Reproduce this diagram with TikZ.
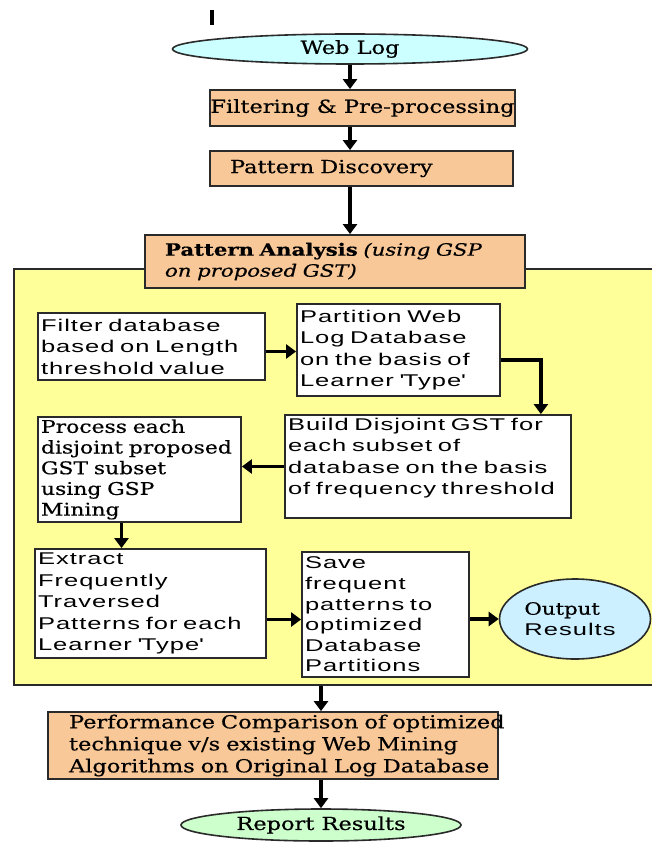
\documentclass[tikz,border=0pt]{standalone}
\usepackage{fontspec}
\setmainfont[FakeStretch=1.25,FakeBold=0.5]{DejaVu Serif}
\newfontfamily\sw[FakeStretch=1.5,LetterSpace=6]{Liberation Sans}
\usetikzlibrary{shapes.geometric,arrows.meta,calc}
\definecolor{cyanf}{HTML}{CCFFFF}
\definecolor{bluef}{HTML}{CCF0FF}
\definecolor{greenf}{HTML}{CCFFCC}
\definecolor{orangef}{HTML}{F9C898}
\definecolor{yellowf}{HTML}{FFFF99}
\definecolor{edge}{HTML}{2A2A2A}
\begin{document}
\begin{tikzpicture}[x=1pt,y=-1pt,
  serif/.style={font=\fontsize{18}{22}\selectfont},
  sans/.style={font=\sw\fontsize{17}{21.5}\selectfont},
  obox/.style={draw=edge, line width=1.8pt, fill=orangef, inner sep=0pt, serif},
  wbox/.style={draw=edge, line width=1.8pt, fill=white, inner ysep=0pt, inner xsep=3pt, align=left},
  oval/.style={ellipse, draw=edge, line width=1.6pt, inner sep=0pt, serif},
  arr/.style={line width=3.4pt, -{Triangle[width=14pt,length=10pt]}}
]
\useasboundingbox (0,0) rectangle (652,842);
\coordinate (t1) at (212,10);
\coordinate (t2) at (212,25);
\draw[line width=3.2pt] (t1) -- (t2);

\node[oval, fill=cyanf, minimum width=355pt, minimum height=30pt] (weblog) at (350,49) {Web Log};
\node[obox, minimum width=305pt, minimum height=36pt] (filt) at (362.5,108) {Filtering \& Pre-processing};
\node[obox, minimum width=303pt, minimum height=35pt, text width=263pt, align=left, inner xsep=20pt] (pd) at (361.5,168.5) {Pattern Discovery};

\node[draw=edge, line width=1.8pt, fill=yellowf, anchor=north west, minimum width=650pt, minimum height=416pt, inner sep=0pt] (ana) at (13,268) {};

\node[obox, minimum width=380pt, minimum height=53pt, text width=340pt, inner xsep=20pt, align=left, font=\fontsize{17}{21}\selectfont] (pa) at (335,261.5) {\mbox{\textbf{Pattern Analysis} \textit{(using GSP}}\\ \mbox{\textit{on proposed GST)}}};

\node[wbox, sans, minimum height=67pt, text width=221pt] (filter) at (151.5,346.5) {\mbox{Filter database}\\\mbox{based on Length}\\\mbox{threshold value}};
\node[wbox, sans, minimum height=92pt, text width=197pt] (part) at (398.5,350) {\mbox{Partition Web}\\\mbox{Log Database}\\\mbox{on the basis of}\\\mbox{Learner \textquotesingle Type\textquotesingle}};
\node[wbox, sans, minimum height=103pt, text width=280pt] (build) at (428,466.5) {\parbox[c][97pt][t]{280pt}{\raggedright\mbox{Build Disjoint GST for}\\\mbox{each subset of}\\\mbox{database on the basis}\\\mbox{of frequency threshold}}};
\node[wbox, serif, font=\fontsize{17.5}{20.7}\selectfont, minimum height=105pt, text width=197pt] (proc) at (139.5,469.5) {\mbox{Process each}\\\mbox{disjoint proposed}\\\mbox{GST subset}\\\mbox{using GSP}\\\mbox{Mining}};
\node[wbox, sans, minimum height=109pt, text width=225pt] (extract) at (150.5,603.5) {\mbox{Extract}\\\mbox{Frequently}\\\mbox{Traversed}\\\mbox{Patterns for each}\\\mbox{Learner \textquotesingle Type\textquotesingle}};
\node[wbox, sans, font=\sw\fontsize{17}{20.6}\selectfont, minimum height=125pt, text width=161pt] (save) at (385.5,614.5) {\mbox{Save}\\\mbox{frequent}\\\mbox{patterns to}\\\mbox{optimized}\\\mbox{Database}\\\mbox{Partitions}};
\node[oval, fill=bluef, minimum width=151pt, minimum height=80pt, align=left, font=\fontsize{17}{21}\selectfont] (out) at (575,619) {Output\\{\sw\fontsize{17}{21}\selectfont Results}\hspace*{10pt}};

\node[obox, minimum width=450pt, minimum height=67pt, text width=408pt, inner xsep=21pt, align=left] (perf) at (273,745.5) {\mbox{Performance Comparison of optimized}\\\mbox{technique v/s existing Web Mining}\\\mbox{Algorithms on Original Log Database}};
\node[oval, fill=greenf, minimum width=280pt, minimum height=32pt] (report) at (321,825) {Report Results};

\draw[arr] (weblog.south) -- (weblog.south |- filt.north);
\draw[arr] (weblog.south |- filt.south) -- (weblog.south |- pd.north);
\draw[arr] (weblog.south |- pd.south) -- (weblog.south |- pa.north);
\draw[arr] ([yshift=-5pt]filter.east) -- ([yshift=-5pt]filter.east -| part.west);
\draw[arr] ([yshift=-10pt]part.east) -| ([xshift=-31pt]build.north east);
\draw[arr] (build.west) -- (build.west -| proc.east);
\draw[arr] ([xshift=-18pt]proc.south) -- ([xshift=-18pt]proc.south |- extract.north);
\draw[arr] ([yshift=-16pt]extract.east) -- ([yshift=-16pt]extract.east -| save.west);
\draw[arr] (out.west -| save.east) -- (out.west);
\draw[arr] (report.north |- ana.south) -- (report.north |- perf.north);
\draw[arr] (report.north |- perf.south) -- (report.north);
\end{tikzpicture}
\end{document}
